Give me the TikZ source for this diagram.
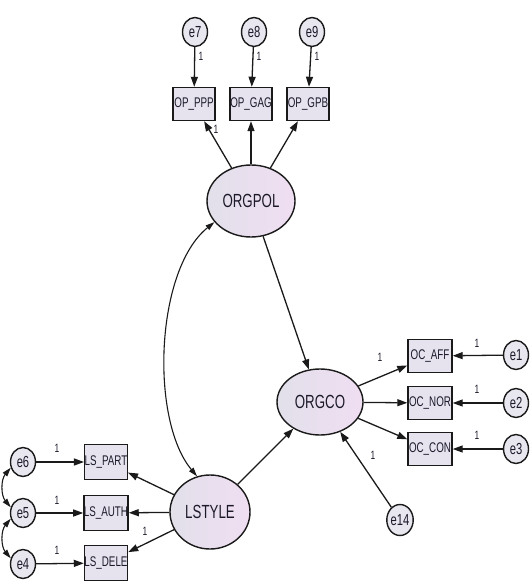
\documentclass[tikz,border=0pt]{standalone}
\usepackage{fontspec}
\setmainfont{Liberation Sans}
\newfontfamily\nf[FakeStretch=0.7]{Liberation Sans}
\usetikzlibrary{shapes.geometric,arrows.meta}
\definecolor{boxfill}{HTML}{E6E3EF}
\definecolor{latL}{HTML}{E2E0EA}
\definecolor{latR}{HTML}{F0DEF2}
\definecolor{errfill}{HTML}{E8E6EE}
\definecolor{ink}{HTML}{1A1A1A}
\definecolor{txt}{HTML}{1C1A2A}
\begin{document}
\begin{tikzpicture}[x=1pt,y=-1pt,
 obs/.style={draw=ink,line width=1.4pt,fill=boxfill,minimum width=42pt,minimum height=33pt,inner sep=0pt,text=txt,font=\nf\fontsize{14}{14}\selectfont},
 lat/.style={ellipse,draw=ink,line width=1.4pt,left color=latL,right color=latR,inner sep=0pt,text=txt,font=\nf\fontsize{19}{19}\selectfont},
 err/.style={ellipse,draw=ink,line width=1.4pt,fill=errfill,minimum width=25pt,minimum height=29pt,inner sep=0pt,text=txt,font=\nf\fontsize{16}{16}\selectfont},
 arr/.style={draw=ink,line width=1.3pt,-{Triangle[length=10pt,width=7pt]}},
 cov/.style={draw=ink,line width=1.1pt,{Triangle[length=9pt,width=5.5pt]}-{Triangle[length=9pt,width=5.5pt]}},
 lbl/.style={font=\nf\fontsize{12}{12}\selectfont,inner sep=0pt,text=txt}]
\useasboundingbox[fill=white] (0,0) rectangle (530,588);

% latent variables
\node[lat,minimum width=88pt,minimum height=72pt] (orgpol) at (251,201) {ORGPOL};
\node[lat,minimum width=86pt,minimum height=66pt] (orgco) at (320,402) {ORGCO};
\node[lat,minimum width=80pt,minimum height=74pt] (lstyle) at (210,512) {LSTYLE};

% observed
\node[obs] (opppp) at (194,104) {OP\_PPP};
\node[obs] (opgag) at (251,104) {OP\_GAG};
\node[obs] (opgpb) at (308,104) {OP\_GPB};
\node[obs,minimum width=44pt] (ocaff) at (430,356) {OC\_AFF};
\node[obs,minimum width=44pt] (ocnor) at (430,403) {OC\_NOR};
\node[obs,minimum width=44pt] (occon) at (430,449) {OC\_CON};
\node[obs,minimum width=40pt,minimum height=35pt] (lspart) at (106,462) {LS\_PART};
\node[obs,minimum width=40pt,minimum height=35pt] (lsauth) at (106,513) {LS\_AUTH};
\node[obs,minimum width=40pt,minimum height=35pt] (lsdele) at (106,563) {LS\_DELE};

% errors
\node[err] (e7) at (195,32) {e7};
\node[err] (e8) at (254,32) {e8};
\node[err] (e9) at (312,32) {e9};
\node[err] (e1) at (516,355) {e1};
\node[err] (e2) at (516,403) {e2};
\node[err] (e3) at (516,449) {e3};
\node[err,minimum width=26pt,minimum height=31pt] (e14) at (400,520) {e14};
\node[err] (e6) at (23,462) {e6};
\node[err] (e5) at (23,513) {e5};
\node[err] (e4) at (23,564) {e4};

% paths
\draw[arr] (orgpol) -- (opppp);
\draw[arr] (orgpol) -- (opgag);
\draw[arr] (orgpol) -- (opgpb);
\draw[arr] (e7) -- (opppp);
\draw[arr] (e8) -- (opgag);
\draw[arr] (e9) -- (opgpb);

\draw[arr] (orgpol) -- (orgco);
\draw[arr] (lstyle) -- (orgco);
\draw[arr] (e14) -- (orgco);

\draw[arr] (orgco) -- (ocaff);
\draw[arr] (orgco) -- (ocnor);
\draw[arr] (orgco) -- (occon);
\draw[arr] (e1) -- (ocaff);
\draw[arr] (e2) -- (ocnor);
\draw[arr] (e3) -- (occon);

\draw[arr] (lstyle) -- (lspart);
\draw[arr] (lstyle) -- (lsauth);
\draw[arr] (lstyle) -- (lsdele);
\draw[arr] (e6) -- (lspart);
\draw[arr] (e5) -- (lsauth);
\draw[arr] (e4) -- (lsdele);

% covariances
\draw[cov] (orgpol.210) .. controls (155,270) and (150,420) .. (lstyle.110);
\draw[cov] (e6.205) to[bend right=40] (e5.155);
\draw[cov] (e5.205) to[bend right=40] (e4.155);

% labels
\node[lbl] (l7) at (201,56) {1};
\node[lbl] (l8) at (259,56) {1};
\node[lbl] (l9) at (317,56) {1};
\node[lbl] (lop) at (216,129) {1};
\node[lbl] (loc) at (380,357) {1};
\node[lbl] (l1) at (477,343) {1};
\node[lbl] (l2) at (477,389) {1};
\node[lbl] (l3) at (477,435) {1};
\node[lbl] (l14) at (373,455) {1};
\node[lbl] (l6) at (57,448) {1};
\node[lbl] (l5) at (57,500) {1};
\node[lbl] (l4) at (57,550) {1};
\node[lbl] (lls) at (145,531) {1};
\end{tikzpicture}
\end{document}
